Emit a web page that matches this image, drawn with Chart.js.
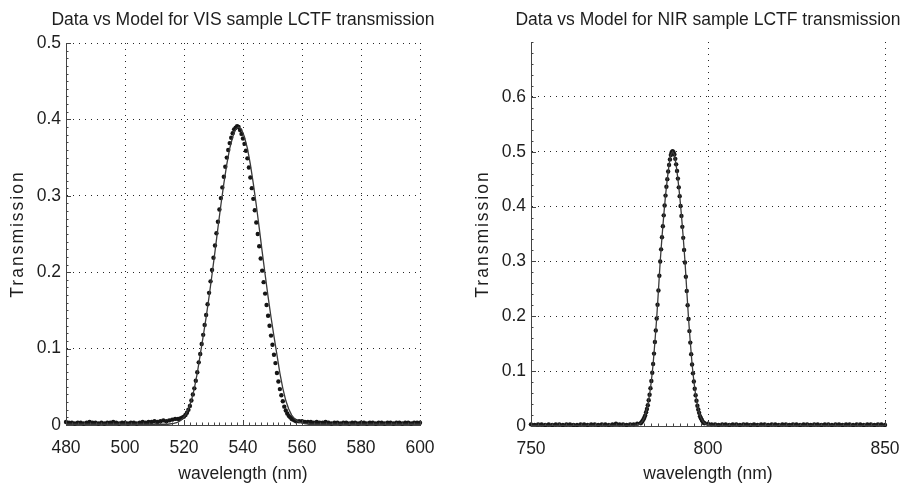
<!DOCTYPE html>
<html><head><meta charset="utf-8">
<script src="https://cdn.jsdelivr.net/npm/chart.js@4.4.1/dist/chart.umd.min.js"></script>
<style>
html,body{margin:0;padding:0;background:#fff;width:907px;height:490px;overflow:hidden}
canvas{position:absolute;top:0}
#c1{left:0}
#c2{left:455px}
</style></head><body>
<canvas id="c1" width="455" height="490"></canvas>
<canvas id="c2" width="452" height="490"></canvas>
<script>
// ---------------- VIS (left) ----------------
const visTitle = 'Data vs Model for VIS sample LCTF transmission';
const visXTicks = [480, 500, 520, 540, 560, 580, 600];
const visYTicks = [0, 0.1, 0.2, 0.3, 0.4, 0.5];
// measured data: three wavelength segments (start, step) with read values
const visDataLowStart = 480, visDataLowStep = 1;
const visDataLow = [0.004,0.003,0.003,0.002,0.003,0.003,0.002,0.003,0.004,0.003,0.003,0.002,0.003,0.002,0.003,0.003,0.004,0.003,0.002,0.003,0.003,0.002,0.003,0.003,0.002,0.003,0.004,0.003,0.004,0.004,0.005,0.004,0.005,0.006,0.005,0.006,0.007,0.008];
const visDataPeakStart = 518, visDataPeakStep = 0.5;
const visDataPeak = [0.008,0.008,0.009,0.010,0.011,0.013,0.016,0.020,0.025,0.032,0.040,0.048,0.058,0.069,0.082,0.093,0.106,0.118,0.131,0.144,0.158,0.173,0.188,0.203,0.219,0.235,0.251,0.266,0.282,0.297,0.311,0.325,0.338,0.350,0.360,0.369,0.376,0.382,0.387,0.389,0.391,
 0.390,0.386,0.381,0.375,0.368,0.359,0.349,0.337,0.324,0.310,0.296,0.281,0.265,0.250,0.234,0.218,0.202,0.187,0.172,0.157,0.143,0.130,0.117,0.105,0.092,0.081,0.068,0.057,0.047,0.039,0.031,0.024,0.019,0.015,0.012,0.010,0.008,0.007,0.006,0.005];
const visDataHighStart = 559, visDataHighStep = 1;
const visDataHigh = [0.005,0.005,0.004,0.004,0.004,0.003,0.004,0.003,0.003,0.004,0.003,0.002,0.003,0.003,0.002,0.003,0.003,0.002,0.003,0.003,0.002,0.003,0.003,0.002,0.003,0.003,0.002,0.003,0.003,0.002,0.003,0.003,0.002,0.003,0.003,0.002,0.003,0.003,0.002,0.003,0.003,0.003];
// model curve
const visModelLambda = [480,500,510,514.5,516.5,517.5,518.5,519.5,520.5,521.5,522.5,523.5,524.5,525.5,526.5,527.5,528.5,529.5,530.5,531.5,532.5,533.5,534.5,535.5,536.5,537.5,538.5,539.5,540.5,541.5,542.5,543.5,544.5,545.5,546.5,547.5,548.5,549.5,550.5,551.5,552.5,553.5,554.5,555.5,556.5,557.5,558.5,559.5,560.5,562.5,570,600];
const visModelT = [0.001,0.001,0.001,0.001,0.002,0.003,0.005,0.008,0.013,0.021,0.032,0.048,0.068,0.092,0.116,0.141,0.168,0.197,0.227,0.258,0.288,0.316,0.341,0.362,0.377,0.387,0.390,0.387,0.377,0.362,0.341,0.316,0.288,0.258,0.227,0.197,0.168,0.141,0.116,0.092,0.068,0.048,0.032,0.021,0.013,0.008,0.005,0.003,0.002,0.001,0.001,0.001];

// ---------------- NIR (right) ----------------
const nirTitle = 'Data vs Model for NIR sample LCTF transmission';
const nirXTicks = [750, 800, 850];
const nirYTicks = [0, 0.1, 0.2, 0.3, 0.4, 0.5, 0.6];
const nirDataLowStart = 750, nirDataLowStep = 1;
const nirDataLow = [0.003,0.002,0.003,0.003,0.002,0.003,0.002,0.003,0.003,0.002,0.003,0.003,0.002,0.002,0.003,0.003,0.002,0.003,0.003,0.002,0.003,0.003,0.002,0.003,0.004,0.003,0.003,0.002,0.003,0.003,0.004];
const nirDataPeakStart = 781, nirDataPeakStep = 0.25;
const nirDataPeak = [0.005,0.007,0.009,0.012,0.015,0.019,0.025,0.031,0.038,0.047,0.057,0.069,0.082,0.097,0.113,0.132,0.153,0.174,0.196,0.221,0.247,0.274,0.300,0.322,0.344,0.364,0.384,0.402,0.420,0.436,0.450,0.464,0.476,0.486,0.494,0.499,0.501,
 0.499,0.495,0.487,0.477,0.465,0.451,0.435,0.419,0.401,0.383,0.363,0.343,0.321,0.298,0.272,0.246,0.220,0.195,0.173,0.152,0.131,0.112,0.096,0.081,0.068,0.056,0.046,0.037,0.030,0.024,0.018,0.014,0.011,0.008,0.006,0.005];
const nirDataHighStart = 800, nirDataHighStep = 1;
const nirDataHigh = [0.004,0.003,0.003,0.002,0.003,0.003,0.002,0.003,0.003,0.002,0.003,0.003,0.002,0.003,0.002,0.003,0.003,0.002,0.003,0.003,0.002,0.003,0.003,0.002,0.003,0.003,0.002,0.003,0.003,0.002,0.003,0.003,0.002,0.003,0.003,0.002,0.003,0.003,0.002,0.003,0.003,0.002,0.003,0.003,0.002,0.003,0.003,0.002,0.003,0.003,0.002];
const nirModelLambda = [750,770,779,780,780.5,781,781.5,782,782.5,783,783.5,784,784.5,785,785.5,786,786.5,787,787.5,788,788.5,789,789.5,790,790.5,791,791.5,792,792.5,793,793.5,794,794.5,795,795.5,796,796.5,797,797.5,798,798.5,799,799.5,800,801,810,850];
const nirModelT = [0.001,0.001,0.001,0.002,0.003,0.005,0.009,0.015,0.025,0.038,0.057,0.082,0.113,0.153,0.196,0.247,0.300,0.344,0.384,0.420,0.450,0.476,0.494,0.500,0.494,0.476,0.450,0.420,0.384,0.344,0.300,0.247,0.196,0.153,0.113,0.082,0.057,0.038,0.025,0.015,0.009,0.005,0.003,0.002,0.001,0.001,0.001];

const FONT = "'Liberation Sans', Arial, Helvetica, sans-serif";
const TXT = '#1e1e1e';

function seg(start, step, vals) { return vals.map((v, i) => ({x: +(start + i * step).toFixed(3), y: v})); }
function pairs(xs, ys) { return xs.map((x, i) => ({x, y: ys[i]})); }

const matlabAxes = {
  id: 'matlabAxes',
  afterDatasetsDraw(chart, args, o) {
    const {ctx, chartArea: {left, bottom}, scales: {x, y}} = chart;
    ctx.save();
    ctx.strokeStyle = '#444';
    ctx.lineWidth = 1;
    ctx.beginPath();
    const nx = Math.round((x.max - x.min) / o.minorX);
    for (let i = 0; i <= nx; i++) {
      const v = x.min + i * o.minorX;
      const px = Math.round(x.getPixelForValue(v)) + 0.5;
      const major = o.xTicks.some(t => Math.abs(t - v) < 1e-6);
      ctx.moveTo(px, bottom); ctx.lineTo(px, bottom - (major ? 5 : 2.5));
    }
    const ny = Math.round((o.yTop - y.min) / o.minorY);
    for (let i = 0; i <= ny; i++) {
      const v = y.min + i * o.minorY;
      const py = Math.round(y.getPixelForValue(v)) + 0.5;
      const major = o.yTicks.some(t => Math.abs(t - v) < 1e-6);
      ctx.moveTo(left, py); ctx.lineTo(left + (major ? 5 : 2.5), py);
    }
    ctx.stroke();
    ctx.restore();
  },
  afterDraw(chart, args, o) {
    const {ctx, chartArea: {left, right, top, bottom}} = chart;
    // plot title, centred over the plot area (as MATLAB does)
    ctx.save();
    ctx.font = '17.5px ' + FONT;
    ctx.fillStyle = TXT;
    ctx.textAlign = 'center';
    ctx.textBaseline = 'alphabetic';
    ctx.fillText(o.title, (left + right) / 2, 25);
    ctx.restore();
    // y-axis title
    ctx.save();
    ctx.translate(o.yTitleX, (top + bottom) / 2);
    ctx.rotate(-Math.PI / 2);
    ctx.font = '17.5px ' + FONT;
    ctx.fillStyle = TXT;
    ctx.textAlign = 'center';
    ctx.textBaseline = 'middle';
    try { ctx.letterSpacing = '2px'; } catch (e) {}
    ctx.fillText('Transmission', 0, 0);
    ctx.restore();
  }
};

function makeChart(id, cfg) {
  const tickFont = {family: FONT, size: 17.5};
  return new Chart(document.getElementById(id), {
    type: 'scatter',
    data: {
      datasets: [
        {label: 'Model', data: cfg.model, showLine: true, borderColor: '#3a3a3a', borderWidth: 1.3,
         pointRadius: 0, tension: 0, order: 0, clip: false},
        {label: 'Data', data: cfg.data, showLine: false, pointRadius: 2.2, pointHoverRadius: 2.2,
         pointBackgroundColor: '#151515', pointBorderWidth: 0, order: 1, clip: false}
      ]
    },
    options: {
      responsive: false, animation: false, devicePixelRatio: 1,
      layout: {autoPadding: false, padding: {left: 0, right: cfg.padRight, top: cfg.padTop, bottom: 0}},
      plugins: {
        legend: {display: false}, tooltip: {enabled: false}, title: {display: false},
        matlabAxes: cfg.axes
      },
      scales: {
        x: {
          type: 'linear', min: cfg.xMin, max: cfg.xMax,
          afterBuildTicks: s => { s.ticks = cfg.xTicks.map(v => ({value: v})); },
          afterFit: s => { s.height = cfg.xHeight; s.paddingLeft = 0; s.paddingRight = 0; },
          ticks: {font: tickFont, color: TXT, padding: 13, maxRotation: 0, autoSkip: false,
                  callback: v => String(v)},
          grid: {color: 'rgba(0,0,0,0.85)', lineWidth: 1, drawTicks: false},
          border: {display: true, color: '#444', width: 1, dash: [1, 5]},
          title: {display: true, text: 'wavelength (nm)', color: TXT, font: {family: FONT, size: 17.5},
                  padding: {top: 0, bottom: 5}}
        },
        y: {
          type: 'linear', min: 0, max: cfg.yMax,
          afterBuildTicks: s => { s.ticks = cfg.yTicks.map(v => ({value: v})); },
          afterFit: s => { s.width = cfg.yWidth; s.paddingTop = 0; s.paddingBottom = 0; },
          ticks: {font: tickFont, color: TXT, padding: 5, callback: v => String(v)},
          grid: {color: 'rgba(0,0,0,0.85)', lineWidth: 1, drawTicks: false},
          border: {display: true, color: '#444', width: 1, dash: [1, 5]}
        }
      }
    },
    plugins: [matlabAxes]
  });
}

makeChart('c1', {
  padTop: 43, padRight: 35,
  xMin: 480, xMax: 600, yMax: 0.5, xTicks: visXTicks, yTicks: visYTicks,
  xHeight: 65, yWidth: 66,
  data: [].concat(seg(visDataLowStart, visDataLowStep, visDataLow),
                  seg(visDataPeakStart, visDataPeakStep, visDataPeak),
                  seg(visDataHighStart, visDataHighStep, visDataHigh)),
  model: pairs(visModelLambda, visModelT),
  axes: {title: visTitle, minorX: 2, minorY: 0.01, yTop: 0.5, xTicks: visXTicks, yTicks: visYTicks, yTitleX: 18}
});

makeChart('c2', {
  padTop: 42, padRight: 22,
  xMin: 750, xMax: 850, yMax: 0.7, xTicks: nirXTicks, yTicks: nirYTicks,
  xHeight: 64, yWidth: 76,
  data: [].concat(seg(nirDataLowStart, nirDataLowStep, nirDataLow),
                  seg(nirDataPeakStart, nirDataPeakStep, nirDataPeak),
                  seg(nirDataHighStart, nirDataHighStep, nirDataHigh)),
  model: pairs(nirModelLambda, nirModelT),
  axes: {title: nirTitle, minorX: 2, minorY: 0.02, yTop: 0.7, xTicks: nirXTicks, yTicks: nirYTicks, yTitleX: 28}
});
</script>
</body></html>
